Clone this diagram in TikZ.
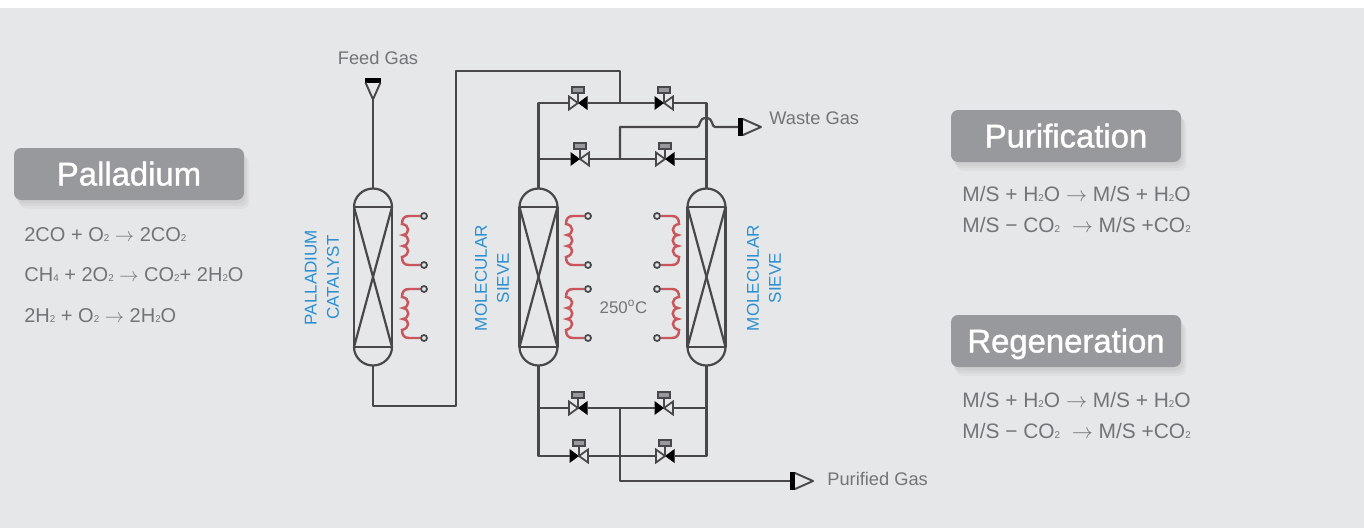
\documentclass[tikz,border=0pt]{standalone}
\usepackage{fontspec}
\setmainfont{Liberation Sans}
\newfontfamily\titlefont[FakeBold=1.2]{Liberation Sans}
\usetikzlibrary{shadows}
\definecolor{bgcol}{HTML}{E6E7E8}
\definecolor{pipecol}{HTML}{48484A}
\definecolor{boxcol}{HTML}{98999C}
\definecolor{txtcol}{HTML}{737477}
\definecolor{bluecol}{HTML}{2B8FD2}
\definecolor{coilcol}{HTML}{C9565C}
\newcommand{\dn}[1]{{\fontsize{5.6}{6}\selectfont #1}}
\newcommand{\goes}{$\rightarrow$}
\tikzset{
    pipe/.style = {draw=pipecol, line width=1.25pt, line join=round},
    title/.style = {rounded corners=4pt, fill=boxcol, text=white, minimum width=4.6cm, minimum height=1.04cm, inner sep=0pt, text height=13pt, text depth=0pt, font=\titlefont\fontsize{18.7}{20}\selectfont,
        drop shadow={opacity=0.08, shadow xshift=1pt, shadow yshift=-2pt},
        drop shadow={opacity=0.08, shadow xshift=2pt, shadow yshift=-3.5pt},
        drop shadow={opacity=0.07, shadow xshift=3pt, shadow yshift=-5pt}},
    eqn/.style = {anchor=west, inner sep=0pt, text=txtcol, font=\fontsize{11.9}{14}\selectfont},
    paleqn/.style = {eqn, font=\fontsize{11.4}{14}\selectfont},
    gaslabel/.style = {inner sep=0pt, text=txtcol, font=\fontsize{10.4}{12}\selectfont},
    vlabel/.style = {rotate=90, align=center, inner sep=0pt, text=bluecol, font=\fontsize{9.7}{12.6}\selectfont},
    term/.style = {circle, draw=pipecol, fill=bgcol, line width=1pt, minimum size=0.12cm, inner sep=0pt},
    vessel/.pic = {
        \draw[pipe] (-19,-70) rectangle (19,70);
        \draw[pipe] (-19,-70) -- (19,70);
        \draw[pipe] (19,-70) -- (-19,70);
        \draw[pipe] (-19,-70) .. controls (-19,-80) and (-10.5,-88.5) .. (0,-88.5) .. controls (10.5,-88.5) and (19,-80) .. (19,-70);
        \draw[pipe] (-19,70) .. controls (-19,80) and (-10.5,88.5) .. (0,88.5) .. controls (10.5,88.5) and (19,80) .. (19,70);
        \coordinate (-top) at (0,-88.5);
        \coordinate (-bot) at (0,88.5);
    },
    coil/.pic = {
        \node[term] (-a) at (0,0) {};
        \node[term] (-b) at (0,49) {};
        \draw[coilcol, line width=1.4pt] (-a) -- (-15,0) .. controls (-20,0) and (-22,3) .. (-22,8)
            .. controls (-14,9) and (-14,18) .. (-21,19)
            .. controls (-14,20) and (-14,29) .. (-21,30)
            .. controls (-14,31) and (-14,39) .. (-22,41)
            .. controls (-22,46) and (-20,49) .. (-15,49) -- (-b);
    },
    valve/.pic = {
        \draw[pipecol, line width=1pt] (-9,-6.5) -- (-9,6.5) -- (0,0) -- cycle;
        \fill[black] (9.5,-7) -- (9.5,7) -- (0,0) -- cycle;
        \draw[pipecol, line width=1pt] (0,0) -- (0,-10);
        \draw[pipecol, fill=boxcol, line width=1.1pt] (-6,-16) rectangle (6,-10);
        \coordinate (-a) at (-9,0);
        \coordinate (-b) at (9,0);
    },
    outlet/.pic = {
        \fill[black] (0,-9) rectangle (5,9);
        \draw[pipecol, line width=1.1pt, line join=round] (5,-8) -- (23,0) -- (5,8);
        \coordinate (-in) at (0,0);
        \coordinate (-tip) at (23,0);
    }
}
\begin{document}
\begin{tikzpicture}[x=0.02cm, y=-0.02cm]
    \useasboundingbox (0,0) rectangle (1364,528);
    \fill[bgcol] (0,8) rectangle (1364,528);

    \node[title] (palbox) at (129,174) {Palladium};
    \node[title] (purbox) at (1066,136) {Purification};
    \node[title] (regbox) at (1066,341) {Regeneration};

    \node[paleqn] (palA) at (24,235) {2CO + O\dn{2} \goes{} 2CO\dn{2}};
    \node[paleqn] (palB) at (24,275) {CH\dn{4} + 2O\dn{2} \goes{} CO\dn{2}+ 2H\dn{2}O};
    \node[paleqn] (palC) at (24,316) {2H\dn{2} + O\dn{2} \goes{} 2H\dn{2}O};
    \node[eqn] (purA) at (962,194) {M/S + H\dn{2}O \goes{} M/S + H\dn{2}O};
    \node[eqn] (purB) at (962,225) {M/S − CO\dn{2} \ \goes{} M/S +CO\dn{2}};
    \node[eqn] (regA) at (962,400) {M/S + H\dn{2}O \goes{} M/S + H\dn{2}O};
    \node[eqn] (regB) at (962,431) {M/S − CO\dn{2} \ \goes{} M/S +CO\dn{2}};

    \pic (cat) at (373,277) {vessel};
    \pic (molA) at (538.5,277) {vessel};
    \pic (molB) at (706.5,277) {vessel};

    \pic (catU) at (424,216) {coil};
    \pic (catL) at (424,289) {coil};
    \pic (molAU) at (588,216) {coil};
    \pic (molAL) at (588,289) {coil};
    \pic[xscale=-1] (molBU) at (657,216) {coil};
    \pic[xscale=-1] (molBL) at (657,289) {coil};

    \pic (vA) at (578,103) {valve};
    \pic[xscale=-1] (vB) at (664,103) {valve};
    \pic[xscale=-1] (vC) at (580,159) {valve};
    \pic (vD) at (665,159) {valve};
    \pic (vE) at (578,408) {valve};
    \pic[xscale=-1] (vF) at (664,408) {valve};
    \pic[xscale=-1] (vG) at (579,456) {valve};
    \pic (vH) at (665,456) {valve};

    \pic[rotate=-90, scale=0.93] (feed) at (373,78) {outlet};
    \pic (waste) at (738,127) {outlet};
    \pic (pure) at (790,481) {outlet};

    \coordinate (turnA) at (456,406);
    \coordinate (turnB) at (456,71);
    \coordinate (turnC) at (620,71);
    \coordinate (topJ) at (620,103);
    \coordinate (midJ) at (620,159);
    \coordinate (wasteC) at (620,127);
    \coordinate (hopA) at (697,127);
    \coordinate (hopB) at (715,127);
    \coordinate (botJ) at (620,408);
    \coordinate (pureC) at (620,481);

    \draw[pipe] (feed-tip) -- (cat-top);
    \draw[pipe] (cat-bot) |- (turnA) -- (turnB) -- (turnC) -- (topJ);

    \draw[pipe] (molA-top) -- (molA-top |- vA-a) -- (vA-a);
    \draw[pipe] (vA-b) -- (vB-b);
    \draw[pipe] (vB-a) -- (molB-top |- vB-a) -- (molB-top);
    \draw[pipe] (molA-top |- vC-b) -- (vC-b);
    \draw[pipe] (vC-a) -- (vD-a);
    \draw[pipe] (vD-b) -- (molB-top |- vD-b);

    \draw[pipe] (midJ) -- (wasteC) -- (hopA) .. controls (701,127) and (698,118) .. (706,118) .. controls (714,118) and (711,127) .. (hopB) -- (waste-in);

    \draw[pipe] (molA-bot) -- (molA-bot |- vG-b) -- (vG-b);
    \draw[pipe] (molA-bot |- vE-a) -- (vE-a);
    \draw[pipe] (vE-b) -- (vF-b);
    \draw[pipe] (vF-a) -- (molB-bot |- vF-a);
    \draw[pipe] (vG-a) -- (vH-a);
    \draw[pipe] (molB-bot) -- (molB-bot |- vH-b) -- (vH-b);
    \draw[pipe] (botJ) -- (pureC) -- (pure-in);

    \node[gaslabel] (feedtxt) at (378,58) {Feed Gas};
    \node[gaslabel, anchor=west] (wastetxt) at (769,118) {Waste Gas};
    \node[gaslabel, anchor=west] (puretxt) at (827,479) {Purified Gas};
    \node[gaslabel, font=\fontsize{9.6}{12}\selectfont] (temp) at (623.5,307) {250\textsuperscript{o}C};

    \node[vlabel] (cattxt) at (322,277.5) {PALLADIUM\\CATALYST};
    \node[vlabel] (molAtxt) at (492,278) {MOLECULAR\\SIEVE};
    \node[vlabel] (molBtxt) at (764,278) {MOLECULAR\\SIEVE};
\end{tikzpicture}
\end{document}
